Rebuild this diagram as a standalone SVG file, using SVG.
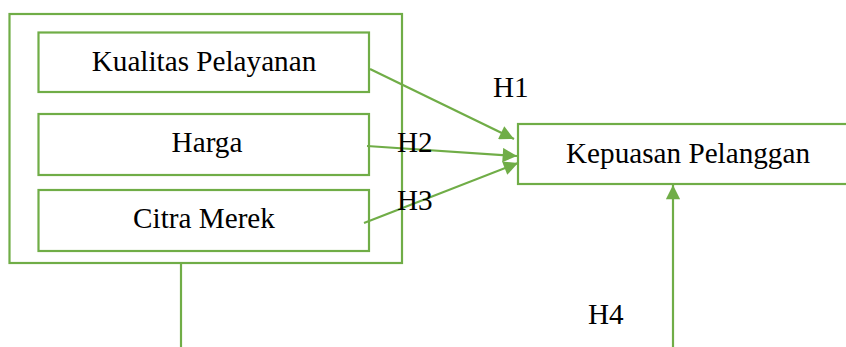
<svg xmlns="http://www.w3.org/2000/svg" width="846" height="347" viewBox="0 0 846 347">
<defs>
<marker id="ah" viewBox="0 0 10 10" refX="10" refY="5" markerWidth="7.5" markerHeight="6.5" markerUnits="strokeWidth" orient="auto">
<path d="M0,0 L10,5 L0,10 z" fill="#70AD47"/>
</marker>
</defs>
<style>
.box{fill:#fff;stroke:#70AD47;stroke-width:2.2}
.ln{fill:none;stroke:#70AD47;stroke-width:2.2}
.t{font-family:"Liberation Serif","Times New Roman",serif;font-size:29.2px;fill:#000}
</style>
<rect width="846" height="347" fill="#fff"/>
<g id="group">
<rect class="box" x="9.5" y="14" width="392.5" height="249"/>
</g>
<g id="kualitas">
<rect class="box" x="38.5" y="32.5" width="330.5" height="59.5"/>
<text class="t" x="204" y="71" text-anchor="middle">Kualitas Pelayanan</text>
</g>
<g id="harga">
<rect class="box" x="38.5" y="114" width="330.5" height="61"/>
<text class="t" x="207" y="152" text-anchor="middle">Harga</text>
</g>
<g id="citra">
<rect class="box" x="38.5" y="190" width="330.5" height="61"/>
<text class="t" x="204" y="228" text-anchor="middle">Citra Merek</text>
</g>
<g id="kepuasan">
<rect class="box" x="518" y="124" width="340" height="60"/>
<text class="t" x="688" y="163" text-anchor="middle">Kepuasan Pelanggan</text>
</g>
<g id="connectors">
<line class="ln" x1="370" y1="69" x2="514" y2="139" marker-end="url(#ah)"/>
<line class="ln" x1="367" y1="146" x2="517" y2="156" marker-end="url(#ah)"/>
<line class="ln" x1="364" y1="223" x2="518" y2="163" marker-end="url(#ah)"/>
<line class="ln" x1="181" y1="263" x2="181" y2="347"/>
<line class="ln" x1="673" y1="347" x2="673" y2="185" marker-end="url(#ah)"/>
</g>
<g id="labels">
<text class="t" x="493" y="97">H1</text>
<text class="t" x="397" y="152">H2</text>
<text class="t" x="397" y="210">H3</text>
<text class="t" x="588" y="324">H4</text>
</g>
</svg>
